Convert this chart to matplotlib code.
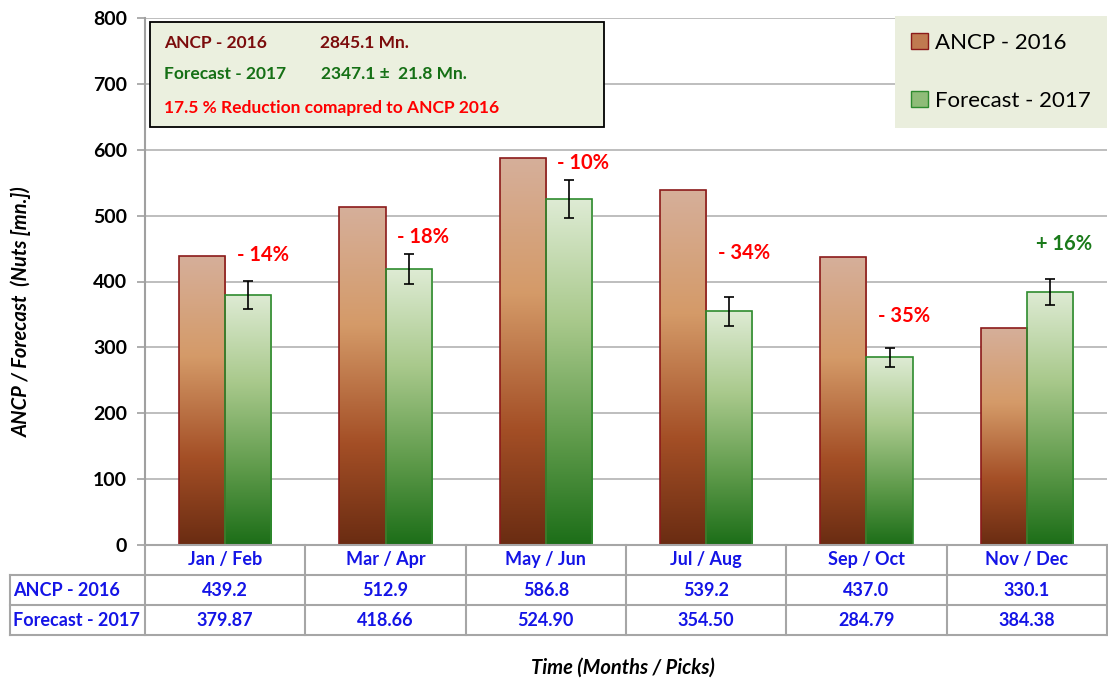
import numpy as np
import matplotlib.pyplot as plt
from matplotlib.colors import LinearSegmentedColormap
from matplotlib.patches import Rectangle, Patch
from matplotlib.transforms import blended_transform_factory
from matplotlib.lines import Line2D

plt.rcParams['font.family'] = ['Lato', 'DejaVu Sans']

# Data
months = ['Jan / Feb', 'Mar / Apr', 'May / Jun', 'Jul / Aug', 'Sep / Oct', 'Nov / Dec']
ancp_2016 = [439.2, 512.9, 586.8, 539.2, 437.0, 330.1]
forecast_2017 = [379.87, 418.66, 524.90, 354.50, 284.79, 384.38]
forecast_err = [21, 22.5, 28.5, 21.5, 15, 20]
ancp_labels = ['439.2', '512.9', '586.8', '539.2', '437.0', '330.1']
forecast_labels = ['379.87', '418.66', '524.90', '354.50', '284.79', '384.38']
change_labels = ['- 14%', '- 18%', '- 10%', '- 34%', '- 35%', '+ 16%']
change_colors = ['red', 'red', 'red', 'red', 'red', '#1a7a1a']
change_y = [440, 467, 580, 443, 347, 457]

W, H = 1108, 684
fig = plt.figure(figsize=(W / 100, H / 100), dpi=100)
ax = fig.add_axes([145 / W, 1 - 545 / H, (1107 - 145) / W, (545 - 18) / H])


def fy(py):
    return 1 - py / H


def fx(px):
    return px / W


cmap_ancp = LinearSegmentedColormap.from_list(
    'ancp', [(0, '#6a2c12'), (0.3, '#a44f26'), (0.65, '#d49a68'), (1, '#d6af9a')])
cmap_fc = LinearSegmentedColormap.from_list(
    'fc', [(0, '#1c6e18'), (0.3, '#5e9a4a'), (0.65, '#a9c98c'), (1, '#deebd4')])
grad = np.linspace(0, 1, 256).reshape(-1, 1)

x = np.arange(len(months))
bw = 0.287
bars1 = ax.bar(x - bw / 2, ancp_2016, bw, facecolor='none', edgecolor='#8b1a1a', lw=1.2, zorder=4)
bars2 = ax.bar(x + bw / 2, forecast_2017, bw, facecolor='none', edgecolor='#2e8b2e', lw=1.2, zorder=4)
for bars, cm in [(bars1, cmap_ancp), (bars2, cmap_fc)]:
    for b in bars:
        x0, h = b.get_x(), b.get_height()
        im = ax.imshow(grad, extent=[x0, x0 + b.get_width(), 0, h], origin='lower',
                       aspect='auto', cmap=cm, zorder=3)
        im.set_clip_path(b)
ax.errorbar(x + bw / 2, forecast_2017, yerr=forecast_err, fmt='none', ecolor='black',
            elinewidth=1.2, capsize=3.5, capthick=1.2, zorder=5)

for i in range(len(months)):
    ax.text(x[i] + bw / 2 + 0.09, change_y[i], change_labels[i], color=change_colors[i],
            fontsize=14.5, fontweight='bold', ha='center', va='center', zorder=6)

ax.set_xlim(-0.5, len(months) - 0.5)
ax.set_ylim(0, 800)
ax.set_yticks(range(0, 801, 100))
ax.set_xticks([])
ax.yaxis.grid(True, color='#b3b3b3', lw=1.2)
ax.set_axisbelow(True)
for s in ['top', 'right', 'bottom']:
    ax.spines[s].set_visible(False)
ax.spines['left'].set_color('#a0a0a0')
ax.spines['left'].set_linewidth(1.5)
ax.tick_params(axis='y', length=6, color='#a0a0a0', width=1.2, pad=7, labelsize=14)
for t in ax.get_yticklabels():
    t.set_fontweight('bold')

# legend
handles = [Patch(facecolor='#c07a50', edgecolor='#8b1a1a'), Patch(facecolor='#8fbc78', edgecolor='#2e8b2e')]
leg = ax.legend(handles, ['ANCP - 2016', 'Forecast - 2017'], loc='upper right',
                bbox_to_anchor=(1.0, 1.003), borderaxespad=0, fontsize=16, labelspacing=1.7,
                handlelength=0.75, handleheight=0.75, handletextpad=0.3, borderpad=0.75,
                fancybox=False, framealpha=1)
leg.get_frame().set_facecolor('#eaeedd')
leg.get_frame().set_edgecolor('none')

# summary box
fs = 12.5
fig.patches.append(Rectangle((fx(150), fy(127)), fx(604) - fx(150), fy(22) - fy(127),
                             transform=fig.transFigure, facecolor='#ebf0df', edgecolor='black',
                             lw=1.3, zorder=5))
fig.text(fx(164), fy(43), 'ANCP - 2016', color='#7b0c0c', fontsize=fs, fontweight='bold', va='center', zorder=6)
fig.text(fx(320), fy(43), '2845.1 Mn.', color='#7b0c0c', fontsize=fs, fontweight='bold', va='center', zorder=6)
fig.text(fx(164), fy(74), 'Forecast - 2017', color='#157015', fontsize=fs, fontweight='bold', va='center', zorder=6)
fig.text(fx(321), fy(74), '2347.1 \u00b1  21.8 Mn.', color='#157015', fontsize=fs, fontweight='bold', va='center', zorder=6)
fig.text(fx(164), fy(108), '17.5 % Reduction comapred to ANCP 2016', color='red', fontsize=fs,
         fontweight='bold', va='center', zorder=6)

# data table
tr = blended_transform_factory(ax.transData, fig.transFigure)
gc = '#a6a6a6'
rows = [545, 575, 605, 635]
for r in rows[1:]:
    fig.add_artist(Line2D([fx(10), fx(1107)], [fy(r), fy(r)], color=gc, lw=1.5))
fig.add_artist(Line2D([fx(145), fx(1107)], [fy(545), fy(545)], color=gc, lw=1.5))
fig.add_artist(Line2D([fx(10), fx(10)], [fy(575), fy(635)], color=gc, lw=1.5))
for b in np.arange(len(months) + 1) - 0.5:
    ax.add_artist(Line2D([b, b], [fy(545), fy(635)], transform=tr, color=gc, lw=1.5, clip_on=False))
tcol = '#1414e6'
tfs = 13
for i in range(len(months)):
    ax.text(x[i], fy(560), months[i], transform=tr, ha='center', va='center', color=tcol,
            fontsize=tfs, fontweight='bold')
    ax.text(x[i], fy(590), ancp_labels[i], transform=tr, ha='center', va='center', color=tcol,
            fontsize=tfs, fontweight='bold')
    ax.text(x[i], fy(620), forecast_labels[i], transform=tr, ha='center', va='center', color=tcol,
            fontsize=tfs, fontweight='bold')
fig.text(fx(13), fy(590), 'ANCP - 2016', color=tcol, fontsize=tfs, fontweight='bold', va='center')
fig.text(fx(13), fy(620), 'Forecast - 2017', color=tcol, fontsize=tfs, fontweight='bold', va='center')

fig.text(fx(623), fy(668), 'Time (Months / Picks)', ha='center', va='center', fontsize=14.5,
         fontweight='bold', style='italic')
fig.text(fx(22), fy(312), 'ANCP / Forecast  (Nuts [mn.])', ha='center', va='center', fontsize=14.5,
         fontweight='bold', style='italic', rotation=90)

fig.savefig('out.png', dpi=100)
